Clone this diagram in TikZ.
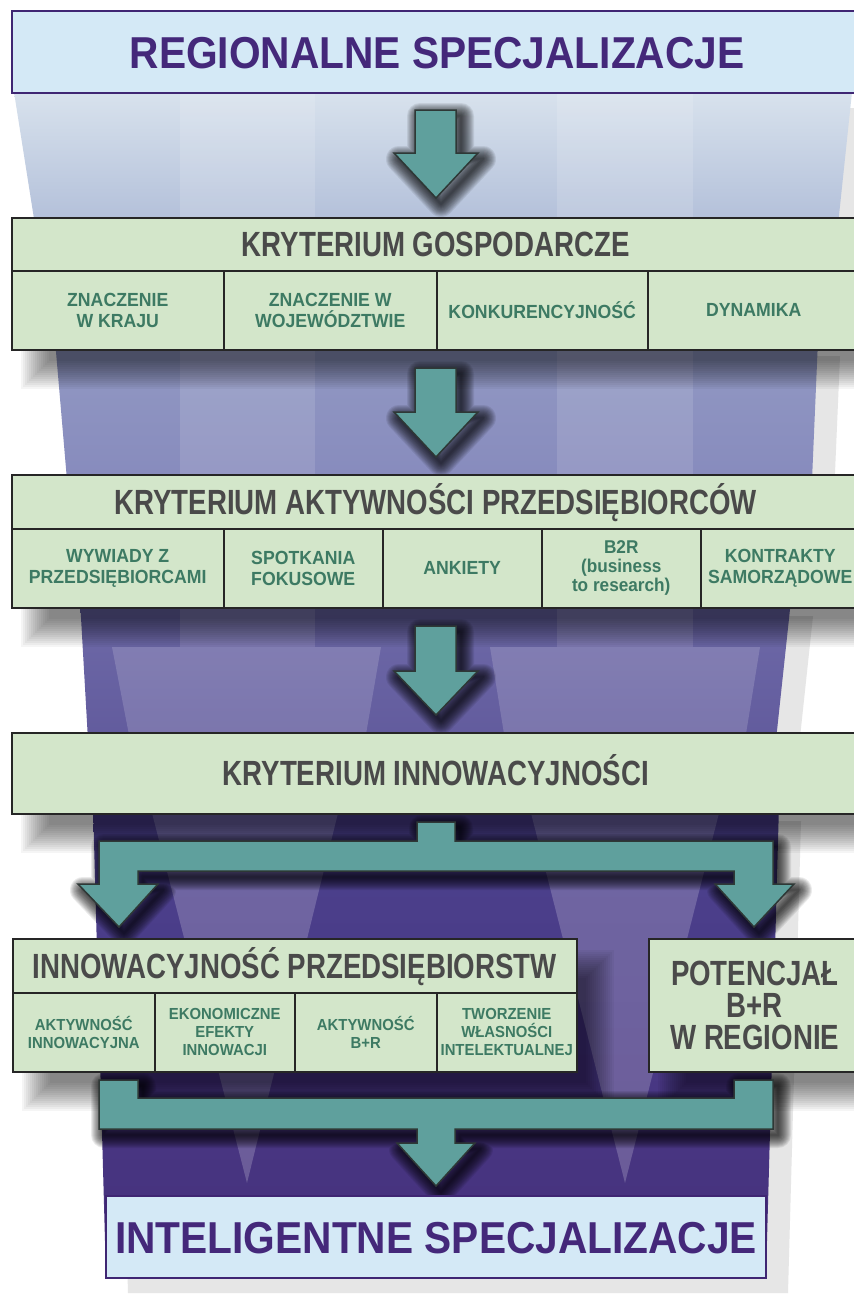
\documentclass[tikz,border=0pt]{standalone}
\usepackage{fontspec}
\newfontfamily\titlef[FakeStretch=0.91]{Liberation Sans}
\newfontfamily\headf[FakeStretch=0.79]{Liberation Sans}
\newfontfamily\subf[FakeStretch=0.93]{Liberation Sans}
\definecolor{boxgreen}{HTML}{D3E6CA}
\definecolor{boxblue}{HTML}{D4E9F6}
\definecolor{purpleline}{HTML}{3F2673}
\definecolor{purpletext}{HTML}{44287A}
\definecolor{headtext}{HTML}{4A4A4A}
\definecolor{subtext}{HTML}{3D7A63}
\definecolor{tealfill}{HTML}{5FA09D}
\definecolor{arrowline}{HTML}{2E3836}
\definecolor{fshadow}{HTML}{E6E6E6}
\definecolor{sAt}{HTML}{D8E2ED}
\definecolor{sAb}{HTML}{B2BFD9}
\definecolor{sBt}{HTML}{9299C3}
\definecolor{sBb}{HTML}{878BBD}
\definecolor{sCt}{HTML}{6E6AA8}
\definecolor{sCb}{HTML}{625B9D}
\definecolor{sDt}{HTML}{4C428E}
\definecolor{sDb}{HTML}{46307C}
% soft rectangular shadow of box (#1,#2)-(#3,#4), shifted by (24,26)
\newcommand\softrect[4]{%
  \foreach \k in {-7,...,7} {%
    \fill[black, opacity=0.04] ({#1+24+2*\k},{#2+26+2*\k}) rectangle ({#3+24-2*\k},{#4+26-2*\k});}}
% soft shadow of the current arrow path
\newcommand\arrowshade{%
  \begin{scope}[shift={(5,6)}]
    \foreach \w in {2,4,...,26} {\draw[black, opacity=0.08, line width=\w pt, line join=round] \currarrow;}
  \end{scope}}
\begin{document}
\begin{tikzpicture}[x=1pt,y=-1pt,
  cell/.style={draw=black!85, line width=1.5pt, fill=boxgreen, inner sep=0pt, anchor=north west, align=center, text=subtext, font={\subf\bfseries\fontsize{19}{20.5}\selectfont}},
  smallcell/.style={cell, font={\subf\bfseries\fontsize{16}{18}\selectfont}},
  head/.style={cell, text=headtext, font={\headf\bfseries\fontsize{35}{32}\selectfont}},
  onehead/.style={head, text height=25pt, text depth=0pt},
  titlebox/.style={draw=purpleline, line width=2.2pt, fill=boxblue, inner sep=0pt, anchor=north west, text=purpletext, text height=32pt, text depth=0pt, font={\titlef\bfseries\fontsize{44.7}{46}\selectfont}},
  arrowbody/.style={fill=tealfill, draw=arrowline, line width=1.5pt, line join=miter},
  lighten/.style={fill=white, opacity=#1}
]
\useasboundingbox (0,0) rectangle (854,1294);
\fill[white] (0,0) rectangle (854,1294);

% funnel shadow
\begin{scope}[shift={(22,16)}]
\fill[fshadow] (14,92) -- (852,92) -- (838,225) -- (35,225) -- cycle;
\fill[fshadow] (55,340) -- (818,340) -- (812,480) -- (67,480) -- cycle;
\fill[fshadow] (80,600) -- (791,600) -- (776,740) -- (88,740) -- cycle;
\fill[fshadow] (93,805) -- (779,805) -- (766,1277) -- (106,1277) -- cycle;
\end{scope}

% funnel sections
\shade[top color=sAt, bottom color=sAb] (14,92) -- (852,92) -- (838,225) -- (35,225) -- cycle;
\shade[top color=sBt, bottom color=sBb] (55,340) -- (818,340) -- (812,480) -- (67,480) -- cycle;
\shade[top color=sCt, bottom color=sCb] (80,600) -- (791,600) -- (776,740) -- (88,740) -- cycle;
\shade[top color=sDt, bottom color=sDb] (93,805) -- (779,805) -- (766,1277) -- (106,1277) -- cycle;

% lighter stripes and wedges
\fill[lighten=0.14] (180,92) rectangle (315,225);
\fill[lighten=0.14] (557,92) rectangle (693,225);
\fill[lighten=0.12] (180,340) rectangle (315,480);
\fill[lighten=0.12] (557,340) rectangle (693,480);
\fill[lighten=0.12] (180,600) rectangle (315,647);
\fill[lighten=0.12] (557,600) rectangle (693,647);
\fill[lighten=0.16] (112,647) -- (381,647) -- (365,740) -- (130,740) -- cycle;
\fill[lighten=0.16] (490,647) -- (760,647) -- (745,740) -- (505,740) -- cycle;
\fill[lighten=0.2] (152,813) -- (338,813) -- (247,1183) -- cycle;
\fill[lighten=0.2] (531,813) -- (719,813) -- (625,1183) -- cycle;

% top title
\node[titlebox, minimum width=850pt, minimum height=82pt] (reg) at (11,10) {REGIONALNE SPECJALIZACJE};

% arrow 1
\def\currarrow{(415,110) -- (456,110) -- (456,153) -- (478,153) -- (436,198) -- (394,153) -- (415,153) -- cycle}
\arrowshade
\filldraw[arrowbody] \currarrow;

% Kryterium gospodarcze
\softrect{11}{217}{859}{349}
\node[onehead, minimum width=848pt, minimum height=53pt] (kg) at (11,217) {KRYTERIUM GOSPODARCZE};
\node[cell, minimum width=212pt, minimum height=79pt] (kg1) at (11,270) {ZNACZENIE\\W KRAJU};
\node[cell, minimum width=213pt, minimum height=79pt] (kg2) at (223,270) {ZNACZENIE W\\WOJEWÓDZTWIE};
\node[cell, minimum width=211pt, minimum height=79pt] (kg3) at (436,270) {KONKURENCYJNOŚĆ};
\node[cell, minimum width=212pt, minimum height=79pt] (kg4) at (647,270) {DYNAMIKA};

% arrow 2
\def\currarrow{(415,368) -- (456,368) -- (456,412) -- (478,412) -- (436,457) -- (394,412) -- (415,412) -- cycle}
\arrowshade
\filldraw[arrowbody] \currarrow;

% Kryterium aktywnosci
\softrect{11}{474}{859}{607}
\node[onehead, minimum width=848pt, minimum height=54pt] (ka) at (11,474) {KRYTERIUM AKTYWNOŚCI PRZEDSIĘBIORCÓW};
\node[cell, minimum width=212pt, minimum height=79pt] (ka1) at (11,528) {WYWIADY Z\\PRZEDSIĘBIORCAMI};
\node[cell, minimum width=159pt, minimum height=79pt] (ka2) at (223,528) {SPOTKANIA\\FOKUSOWE};
\node[cell, minimum width=159pt, minimum height=79pt] (ka3) at (382,528) {ANKIETY};
\node[cell, minimum width=159pt, minimum height=79pt, font={\subf\bfseries\fontsize{18.5}{19}\selectfont}] (ka4) at (541,528) {B2R\\(business\\to research)};
\node[cell, minimum width=159pt, minimum height=79pt] (ka5) at (700,528) {KONTRAKTY\\SAMORZĄDOWE};

% arrow 3
\def\currarrow{(415,626) -- (456,626) -- (456,671) -- (478,671) -- (436,715) -- (394,671) -- (415,671) -- cycle}
\arrowshade
\filldraw[arrowbody] \currarrow;

% Kryterium innowacyjnosci
\softrect{11}{732}{859}{813}
\node[onehead, minimum width=848pt, minimum height=81pt] (ki) at (11,732) {KRYTERIUM INNOWACYJNOŚCI};

% split arrow
\def\currarrow{(417,822) -- (455,822) -- (455,841) -- (773,841) -- (773,884) -- (794,884) -- (754,927) -- (715,884) -- (734,884) -- (734,871) -- (138,871) -- (138,884) -- (158,884) -- (119,927) -- (78,884) -- (99,884) -- (99,841) -- (417,841) -- cycle}
\arrowshade
\filldraw[arrowbody] \currarrow;

% Innowacyjnosc przedsiebiorstw and potencjal
\softrect{12}{938}{576}{1071}
\softrect{648}{938}{860}{1071}
\node[onehead, minimum width=564pt, minimum height=54pt] (ip) at (12,938) {INNOWACYJNOŚĆ PRZEDSIĘBIORSTW};
\node[smallcell, minimum width=142pt, minimum height=79pt] (ip1) at (12,992) {AKTYWNOŚĆ\\INNOWACYJNA};
\node[smallcell, minimum width=140pt, minimum height=79pt] (ip2) at (154,992) {EKONOMICZNE\\EFEKTY\\INNOWACJI};
\node[smallcell, minimum width=142pt, minimum height=79pt] (ip3) at (294,992) {AKTYWNOŚĆ\\B+R};
\node[smallcell, minimum width=140pt, minimum height=79pt] (ip4) at (436,992) {TWORZENIE\\WŁASNOŚCI\\INTELEKTUALNEJ};
\node[head, minimum width=212pt, minimum height=133pt] (pbr) at (648,938) {POTENCJAŁ\\B+R\\W REGIONIE};

% merge arrow
\def\currarrow{(99,1080) -- (138,1080) -- (138,1098) -- (734,1098) -- (734,1080) -- (773,1080) -- (773,1129) -- (455,1129) -- (455,1143) -- (475,1143) -- (436,1186) -- (397,1143) -- (417,1143) -- (417,1129) -- (99,1129) -- cycle}
\arrowshade
\filldraw[arrowbody] \currarrow;

% bottom title
\node[titlebox, minimum width=660pt, minimum height=82pt] (intel) at (105,1195) {INTELIGENTNE SPECJALIZACJE};
\end{tikzpicture}
\end{document}
